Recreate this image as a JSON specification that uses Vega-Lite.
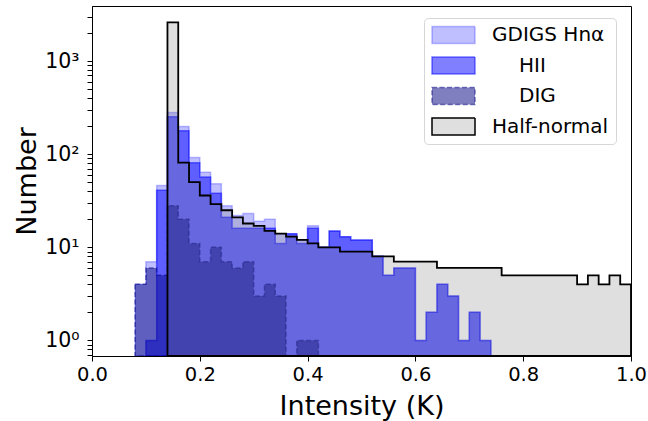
{
  "$schema": "https://vega.github.io/schema/vega-lite/v6.json",
  "width": 539,
  "height": 350,
  "autosize": {"type": "none"},
  "padding": {"left": 92, "top": 6, "right": 17, "bottom": 65},
  "background": "white",
  "config": {
    "font": "DejaVu Sans",
    "view": {"stroke": "black", "strokeWidth": 1},
    "axis": {"grid": false, "domainColor": "black", "tickColor": "black", "labelColor": "black", "titleColor": "black", "titleFontWeight": "normal", "labelFont": "DejaVu Sans", "titleFont": "DejaVu Sans"},
    "legend": {"orient": "none", "legendX": 332, "legendY": 12, "fillColor": "white", "strokeColor": "#d6d6d6", "cornerRadius": 4, "padding": 7, "symbolType": "M-1,-0.4H1V0.4H-1Z", "symbolSize": 1849, "symbolStrokeWidth": 1.5, "labelFontSize": 20, "labelFont": "DejaVu Sans", "labelColor": "black", "labelOffset": 16, "rowPadding": 10.5, "clipHeight": 20}
  },
  "data": {"values": [
    {"series": "GDIGS Hnα", "x0": 0.08, "x1": 0.10, "count": 4},
    {"series": "GDIGS Hnα", "x0": 0.10, "x1": 0.12, "count": 7},
    {"series": "GDIGS Hnα", "x0": 0.12, "x1": 0.14, "count": 46},
    {"series": "GDIGS Hnα", "x0": 0.14, "x1": 0.16, "count": 280},
    {"series": "GDIGS Hnα", "x0": 0.16, "x1": 0.18, "count": 198},
    {"series": "GDIGS Hnα", "x0": 0.18, "x1": 0.20, "count": 92},
    {"series": "GDIGS Hnα", "x0": 0.20, "x1": 0.22, "count": 64},
    {"series": "GDIGS Hnα", "x0": 0.22, "x1": 0.24, "count": 48},
    {"series": "GDIGS Hnα", "x0": 0.24, "x1": 0.26, "count": 28},
    {"series": "GDIGS Hnα", "x0": 0.26, "x1": 0.28, "count": 22},
    {"series": "GDIGS Hnα", "x0": 0.28, "x1": 0.30, "count": 23},
    {"series": "GDIGS Hnα", "x0": 0.30, "x1": 0.32, "count": 19},
    {"series": "GDIGS Hnα", "x0": 0.32, "x1": 0.34, "count": 20},
    {"series": "GDIGS Hnα", "x0": 0.34, "x1": 0.36, "count": 14},
    {"series": "GDIGS Hnα", "x0": 0.36, "x1": 0.38, "count": 14},
    {"series": "GDIGS Hnα", "x0": 0.38, "x1": 0.40, "count": 12},
    {"series": "GDIGS Hnα", "x0": 0.40, "x1": 0.42, "count": 17},
    {"series": "GDIGS Hnα", "x0": 0.42, "x1": 0.44, "count": 10},
    {"series": "GDIGS Hnα", "x0": 0.44, "x1": 0.46, "count": 15},
    {"series": "GDIGS Hnα", "x0": 0.46, "x1": 0.48, "count": 13},
    {"series": "GDIGS Hnα", "x0": 0.48, "x1": 0.50, "count": 12},
    {"series": "GDIGS Hnα", "x0": 0.50, "x1": 0.52, "count": 12},
    {"series": "GDIGS Hnα", "x0": 0.52, "x1": 0.54, "count": 8},
    {"series": "GDIGS Hnα", "x0": 0.54, "x1": 0.56, "count": 5},
    {"series": "GDIGS Hnα", "x0": 0.56, "x1": 0.58, "count": 6},
    {"series": "GDIGS Hnα", "x0": 0.58, "x1": 0.60, "count": 6},
    {"series": "GDIGS Hnα", "x0": 0.60, "x1": 0.62, "count": 1},
    {"series": "GDIGS Hnα", "x0": 0.62, "x1": 0.64, "count": 2},
    {"series": "GDIGS Hnα", "x0": 0.64, "x1": 0.66, "count": 4},
    {"series": "GDIGS Hnα", "x0": 0.66, "x1": 0.68, "count": 3},
    {"series": "GDIGS Hnα", "x0": 0.68, "x1": 0.70, "count": 1},
    {"series": "GDIGS Hnα", "x0": 0.70, "x1": 0.72, "count": 2},
    {"series": "GDIGS Hnα", "x0": 0.72, "x1": 0.74, "count": 1},
    {"series": "HII", "x0": 0.10, "x1": 0.12, "count": 1},
    {"series": "HII", "x0": 0.12, "x1": 0.14, "count": 41},
    {"series": "HII", "x0": 0.14, "x1": 0.16, "count": 252},
    {"series": "HII", "x0": 0.16, "x1": 0.18, "count": 178},
    {"series": "HII", "x0": 0.18, "x1": 0.20, "count": 81},
    {"series": "HII", "x0": 0.20, "x1": 0.22, "count": 57},
    {"series": "HII", "x0": 0.22, "x1": 0.24, "count": 38},
    {"series": "HII", "x0": 0.24, "x1": 0.26, "count": 21},
    {"series": "HII", "x0": 0.26, "x1": 0.28, "count": 16},
    {"series": "HII", "x0": 0.28, "x1": 0.30, "count": 16},
    {"series": "HII", "x0": 0.30, "x1": 0.32, "count": 16},
    {"series": "HII", "x0": 0.32, "x1": 0.34, "count": 16},
    {"series": "HII", "x0": 0.34, "x1": 0.36, "count": 11},
    {"series": "HII", "x0": 0.36, "x1": 0.38, "count": 14},
    {"series": "HII", "x0": 0.38, "x1": 0.40, "count": 11},
    {"series": "HII", "x0": 0.40, "x1": 0.42, "count": 16},
    {"series": "HII", "x0": 0.42, "x1": 0.44, "count": 10},
    {"series": "HII", "x0": 0.44, "x1": 0.46, "count": 15},
    {"series": "HII", "x0": 0.46, "x1": 0.48, "count": 13},
    {"series": "HII", "x0": 0.48, "x1": 0.50, "count": 12},
    {"series": "HII", "x0": 0.50, "x1": 0.52, "count": 12},
    {"series": "HII", "x0": 0.52, "x1": 0.54, "count": 8},
    {"series": "HII", "x0": 0.54, "x1": 0.56, "count": 5},
    {"series": "HII", "x0": 0.56, "x1": 0.58, "count": 6},
    {"series": "HII", "x0": 0.58, "x1": 0.60, "count": 6},
    {"series": "HII", "x0": 0.60, "x1": 0.62, "count": 1},
    {"series": "HII", "x0": 0.62, "x1": 0.64, "count": 2},
    {"series": "HII", "x0": 0.64, "x1": 0.66, "count": 4},
    {"series": "HII", "x0": 0.66, "x1": 0.68, "count": 3},
    {"series": "HII", "x0": 0.68, "x1": 0.70, "count": 1},
    {"series": "HII", "x0": 0.70, "x1": 0.72, "count": 2},
    {"series": "HII", "x0": 0.72, "x1": 0.74, "count": 1},
    {"series": "DIG", "x0": 0.08, "x1": 0.10, "count": 4},
    {"series": "DIG", "x0": 0.10, "x1": 0.12, "count": 6},
    {"series": "DIG", "x0": 0.12, "x1": 0.14, "count": 5},
    {"series": "DIG", "x0": 0.14, "x1": 0.16, "count": 28},
    {"series": "DIG", "x0": 0.16, "x1": 0.18, "count": 20},
    {"series": "DIG", "x0": 0.18, "x1": 0.20, "count": 11},
    {"series": "DIG", "x0": 0.20, "x1": 0.22, "count": 7},
    {"series": "DIG", "x0": 0.22, "x1": 0.24, "count": 10},
    {"series": "DIG", "x0": 0.24, "x1": 0.26, "count": 7},
    {"series": "DIG", "x0": 0.26, "x1": 0.28, "count": 6},
    {"series": "DIG", "x0": 0.28, "x1": 0.30, "count": 7},
    {"series": "DIG", "x0": 0.30, "x1": 0.32, "count": 3},
    {"series": "DIG", "x0": 0.32, "x1": 0.34, "count": 4},
    {"series": "DIG", "x0": 0.34, "x1": 0.36, "count": 3},
    {"series": "DIG", "x0": 0.36, "x1": 0.38, "count": 0},
    {"series": "DIG", "x0": 0.38, "x1": 0.40, "count": 1},
    {"series": "DIG", "x0": 0.40, "x1": 0.42, "count": 1},
    {"series": "Half-normal", "x0": 0.14, "x1": 0.16, "count": 2600},
    {"series": "Half-normal", "x0": 0.16, "x1": 0.18, "count": 81},
    {"series": "Half-normal", "x0": 0.18, "x1": 0.20, "count": 50},
    {"series": "Half-normal", "x0": 0.20, "x1": 0.22, "count": 36},
    {"series": "Half-normal", "x0": 0.22, "x1": 0.24, "count": 29},
    {"series": "Half-normal", "x0": 0.24, "x1": 0.26, "count": 25},
    {"series": "Half-normal", "x0": 0.26, "x1": 0.28, "count": 21},
    {"series": "Half-normal", "x0": 0.28, "x1": 0.30, "count": 18},
    {"series": "Half-normal", "x0": 0.30, "x1": 0.32, "count": 17},
    {"series": "Half-normal", "x0": 0.32, "x1": 0.34, "count": 15},
    {"series": "Half-normal", "x0": 0.34, "x1": 0.36, "count": 14},
    {"series": "Half-normal", "x0": 0.36, "x1": 0.38, "count": 13},
    {"series": "Half-normal", "x0": 0.38, "x1": 0.40, "count": 12},
    {"series": "Half-normal", "x0": 0.40, "x1": 0.42, "count": 11},
    {"series": "Half-normal", "x0": 0.42, "x1": 0.44, "count": 10},
    {"series": "Half-normal", "x0": 0.44, "x1": 0.46, "count": 10},
    {"series": "Half-normal", "x0": 0.46, "x1": 0.48, "count": 9},
    {"series": "Half-normal", "x0": 0.48, "x1": 0.50, "count": 9},
    {"series": "Half-normal", "x0": 0.50, "x1": 0.52, "count": 9},
    {"series": "Half-normal", "x0": 0.52, "x1": 0.54, "count": 8},
    {"series": "Half-normal", "x0": 0.54, "x1": 0.56, "count": 8},
    {"series": "Half-normal", "x0": 0.56, "x1": 0.58, "count": 7},
    {"series": "Half-normal", "x0": 0.58, "x1": 0.60, "count": 7},
    {"series": "Half-normal", "x0": 0.60, "x1": 0.62, "count": 7},
    {"series": "Half-normal", "x0": 0.62, "x1": 0.64, "count": 7},
    {"series": "Half-normal", "x0": 0.64, "x1": 0.66, "count": 6},
    {"series": "Half-normal", "x0": 0.66, "x1": 0.68, "count": 6},
    {"series": "Half-normal", "x0": 0.68, "x1": 0.70, "count": 6},
    {"series": "Half-normal", "x0": 0.70, "x1": 0.72, "count": 6},
    {"series": "Half-normal", "x0": 0.72, "x1": 0.74, "count": 6},
    {"series": "Half-normal", "x0": 0.74, "x1": 0.76, "count": 6},
    {"series": "Half-normal", "x0": 0.76, "x1": 0.78, "count": 5},
    {"series": "Half-normal", "x0": 0.78, "x1": 0.80, "count": 5},
    {"series": "Half-normal", "x0": 0.80, "x1": 0.82, "count": 5},
    {"series": "Half-normal", "x0": 0.82, "x1": 0.84, "count": 5},
    {"series": "Half-normal", "x0": 0.84, "x1": 0.86, "count": 5},
    {"series": "Half-normal", "x0": 0.86, "x1": 0.88, "count": 5},
    {"series": "Half-normal", "x0": 0.88, "x1": 0.90, "count": 5},
    {"series": "Half-normal", "x0": 0.90, "x1": 0.92, "count": 4},
    {"series": "Half-normal", "x0": 0.92, "x1": 0.94, "count": 5},
    {"series": "Half-normal", "x0": 0.94, "x1": 0.96, "count": 4},
    {"series": "Half-normal", "x0": 0.96, "x1": 0.98, "count": 5},
    {"series": "Half-normal", "x0": 0.98, "x1": 1.00, "count": 4}
  ]},
  "transform": [
    {"fold": ["x0", "x1"], "as": ["edge", "x"]}
  ],
  "encoding": {
    "x": {"field": "x", "type": "quantitative", "scale": {"domain": [0, 1]},
      "axis": {"title": "Intensity (K)", "values": [0, 0.2, 0.4, 0.6, 0.8, 1], "format": ".1f", "labelFlush": false, "labelFontSize": 19.5, "titleFontSize": 27, "tickSize": 5, "labelPadding": 4, "titleY": 50, "titleBaseline": "middle"}},
    "y": {"field": "count", "type": "quantitative", "stack": null, "scale": {"type": "log", "domain": [0.68, 3900], "clamp": true},
      "axis": {"title": "Number", "values": [0.7, 0.8, 0.9, 1, 2, 3, 4, 5, 6, 7, 8, 9, 10, 20, 30, 40, 50, 60, 70, 80, 90, 100, 200, 300, 400, 500, 600, 700, 800, 900, 1000, 2000, 3000],
        "labelExpr": "datum.value == 1 ? '10⁰' : datum.value == 10 ? '10¹' : datum.value == 100 ? '10²' : datum.value == 1000 ? '10³' : ''",
        "labelOverlap": false, "labelFontSize": 20.5, "titleFontSize": 27, "tickSize": 5, "labelPadding": 8, "titleX": -65, "titleBaseline": "middle",
        "encode": {"ticks": {"update": {"x2": {"signal": "indexof([1,10,100,1000], datum.value) >= 0 ? -5 : -3"}}}}}},
    "y2": {"datum": 0.68},
    "fill": {"field": "series", "type": "nominal",
      "scale": {"domain": ["GDIGS Hnα", "HII", "DIG", "Half-normal"], "range": ["rgba(0,0,255,0.25)", "rgba(0,0,255,0.5)", "rgba(0,0,128,0.5)", "rgba(128,128,128,0.25)"]},
      "legend": {"title": null, "encode": {"labels": {"update": {"dx": {"signal": "datum.value == 'HII' || datum.value == 'DIG' ? 27 : 0"}}}, "symbols": {"update": {"strokeDash": {"signal": "datum.value == 'DIG' ? [5, 2.5] : [1, 0]"}}}}}},
    "stroke": {"field": "series", "type": "nominal",
      "scale": {"domain": ["GDIGS Hnα", "HII", "DIG", "Half-normal"], "range": ["rgba(0,0,255,0.25)", "rgba(0,0,255,0.5)", "rgba(0,0,128,0.5)", "black"]},
      "legend": {"title": null, "encode": {"labels": {"update": {"dx": {"signal": "datum.value == 'HII' || datum.value == 'DIG' ? 27 : 0"}}}, "symbols": {"update": {"strokeDash": {"signal": "datum.value == 'DIG' ? [5, 2.5] : [1, 0]"}}}}}}
  },
  "layer": [
    {"transform": [{"filter": "datum.series == 'GDIGS Hnα'"}], "mark": {"type": "area", "strokeWidth": 1.5, "clip": true, "invalid": "show"}},
    {"transform": [{"filter": "datum.series == 'HII'"}], "mark": {"type": "area", "strokeWidth": 1.5, "clip": true, "invalid": "show"}},
    {"transform": [{"filter": "datum.series == 'DIG'"}], "mark": {"type": "area", "strokeWidth": 1.5, "strokeDash": [5, 2.5], "clip": true, "invalid": "show"}},
    {"transform": [{"filter": "datum.series == 'Half-normal'"}], "mark": {"type": "area", "strokeWidth": 1.8, "clip": true, "invalid": "show"}}
  ]
}
